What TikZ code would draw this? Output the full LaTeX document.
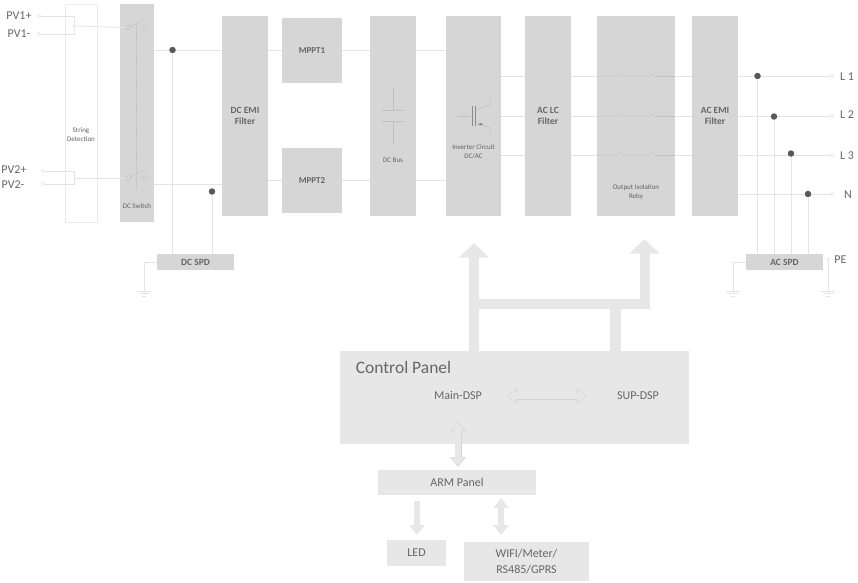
\documentclass[tikz,border=0pt]{standalone}
\usepackage{fontspec}
\setmainfont{Carlito}
\usepackage{tikz}
\usetikzlibrary{arrows.meta}
\definecolor{blockgray}{HTML}{D6D6D6}
\definecolor{panelgray}{HTML}{E6E7E6}
\definecolor{wiregray}{HTML}{E4E4E4}
\definecolor{textgray}{HTML}{666666}

\begin{document}
\begin{tikzpicture}[x=1pt, y=-1pt,
    block/.style = {fill=blockgray, text=textgray, inner sep=0pt, align=center, font=\fontsize{9.5}{11.5}\selectfont\bfseries},
    panel/.style = {fill=panelgray, text=textgray, inner sep=0pt, align=center},
    tiny/.style = {text=black!62, inner sep=0pt, align=center, font=\fontsize{7}{9}\selectfont},
    label/.style = {text=textgray, inner sep=0pt, font=\fontsize{12}{14}\selectfont},
    wire/.style = {draw=wiregray, line width=0.8pt},
    thin wire/.style = {draw=blockgray!90!black, line width=0.5pt},
    term/.style = {draw=wiregray, fill=white, circle, inner sep=0pt, minimum size=3.5pt, line width=0.6pt},
    joint/.style = {fill=black!65, circle, inner sep=0pt, minimum size=6.5pt},
    fat/.style = {draw=panelgray, line width=10pt, -{Triangle[width=29pt, length=14.5pt]}},
    link/.style = {draw=panelgray, line width=6pt},
    link edge/.style = {draw=black!17, line width=7pt, {Triangle[width=15pt, length=10pt]}-{Triangle[width=15pt, length=10pt]}},
    link fill/.style = {draw=panelgray, line width=5.6pt, shorten >=1pt, shorten <=1pt, {Triangle[width=12.6pt, length=8.4pt]}-{Triangle[width=12.6pt, length=8.4pt]}}]
    \useasboundingbox (0,0) rectangle (858,582);

    \node[draw=black!8, fill=white, minimum width=32pt, minimum height=218pt, inner sep=0pt, line width=0.6pt] (detect) at (81,113) {};
    \node[tiny] (detecttxt) at (81,135) {String\\Detection};
    \node[block, minimum width=34pt, minimum height=218pt] (switch) at (137,113) {};
    \node[tiny] (switchtxt) at (137,206) {DC Switch};
    \node[block, minimum width=46pt, minimum height=200pt] (dcemi) at (245,116) {DC EMI\\Filter};
    \node[block, minimum width=60pt, minimum height=65pt, font=\fontsize{9}{11}\selectfont\bfseries] (mppt1) at (312,50.5) {MPPT1};
    \node[block, minimum width=60pt, minimum height=65pt, font=\fontsize{9}{11}\selectfont\bfseries] (mppt2) at (312,180.5) {MPPT2};
    \node[block, minimum width=46pt, minimum height=200pt] (bus) at (393,116) {};
    \node[tiny] (bustxt) at (393,160) {DC Bus};
    \node[block, minimum width=55pt, minimum height=200pt] (inv) at (473.5,116) {};
    \node[tiny] (invtxt) at (473.5,152) {Inverter Circuit\\DC/AC};
    \node[block, minimum width=46pt, minimum height=200pt] (aclc) at (548,116) {AC LC\\Filter};
    \node[block, minimum width=78pt, minimum height=200pt] (relay) at (636,116) {};
    \node[tiny] (relaytxt) at (636,192) {Output Isolation\\Reby};
    \node[block, minimum width=46pt, minimum height=200pt] (acemi) at (715,116) {AC EMI\\Filter};
    \node[block, minimum width=77pt, minimum height=16pt] (dcspd) at (195.5,262) {DC SPD};
    \node[block, minimum width=77pt, minimum height=16pt] (acspd) at (784.5,262) {AC SPD};

    \node[panel, minimum width=349pt, minimum height=93pt] (control) at (514.5,397.5) {};
    \node[text=textgray, inner sep=0pt, font=\fontsize{17.5}{20}\selectfont] (controltxt) at (403.5,367.5) {Control Panel};
    \node[label] (maindsp) at (458,395.5) {Main-DSP};
    \node[label] (supdsp) at (638,395.5) {SUP-DSP};
    \node[panel, minimum width=158pt, minimum height=25pt, font=\fontsize{12}{14}\selectfont] (arm) at (457,482.5) {ARM Panel};
    \node[panel, minimum width=59pt, minimum height=26pt, font=\fontsize{12}{14}\selectfont] (led) at (416.5,553) {LED};
    \node[panel, minimum width=125pt, minimum height=39pt, font=\fontsize{12}{15.5}\selectfont] (wifi) at (526.5,561.5) {WIFI/Meter/\\RS485/GPRS};

    \node[label] (pv1p) at (19,16) {PV1+};
    \node[label] (pv1n) at (19,34) {PV1-};
    \node[label] (pv2p) at (14,170) {PV2+};
    \node[label] (pv2n) at (13,185) {PV2-};
    \node[term] (t1) at (39,16) {};
    \node[term] (t2) at (39,34) {};
    \node[term] (t3) at (43,171) {};
    \node[term] (t4) at (43,184) {};
    \draw[wire] (t1) -- (74,16) -- (74,34) -- (t2);
    \draw[wire] (t3) -- (74,171) -- (74,184) -- (t4);

    \node[term, draw=black!22, fill=blockgray, minimum size=5pt] (s1a) at (128.5,27.5) {};
    \node[term, draw=black!22, fill=blockgray, minimum size=5pt] (s1b) at (145,27.5) {};
    \node[term, draw=black!22, fill=blockgray, minimum size=5pt] (s2a) at (128.5,178) {};
    \node[term, draw=black!22, fill=blockgray, minimum size=5pt] (s2b) at (145,178) {};
    \node[term, minimum size=3pt] (j1) at (74,26) {};
    \coordinate (j2) at (74,178);
    \draw[wire] (j1) -- (s1a);
    \draw[wire] (j2) -- (s2a);
    \draw[thin wire] (s1a) -- (142,21);
    \draw[thin wire] (s2a) -- (142,171);
    \draw[thin wire, densely dotted] (136,24) -- (136,188);

    \coordinate (up) at (0,50);
    \coordinate (lo) at (0,180);
    \coordinate (lsw) at (0,184);
    \draw[wire] (switch.east |- up) -- (dcemi.west |- up);
    \draw[wire] (switch.east |- lsw) -- (dcemi.west |- lsw);
    \draw[wire] (dcemi.east |- up) -- (mppt1.west |- up);
    \draw[wire] (dcemi.east |- lo) -- (mppt2.west |- lo);
    \draw[wire] (mppt1.east |- up) -- (bus.west |- up);
    \draw[wire] (mppt2.east |- lo) -- (bus.west |- lo);
    \draw[wire] (bus.east |- up) -- (inv.west |- up);
    \draw[wire] (bus.east |- lo) -- (inv.west |- lo);

    \node[joint] (dc1) at (172.5,50) {};
    \node[joint] (dc2) at (212,191.5) {};
    \draw[wire] (dc1) -- (dc1 |- dcspd.north);
    \draw[wire] (dc2) -- (dc2 |- dcspd.north);

    \coordinate (g1) at (144,291);
    \coordinate (g2) at (733,291);
    \coordinate (g3) at (828,291);
    \draw[wire] (dcspd.west) -| (g1);
    \draw[wire] (acspd.west) -| (g2);
    \node[term] (pe) at (828,259) {};
    \draw[wire] (pe) -- (g3);
    \foreach \g in {g1, g2, g3} {
        \draw[wire] ([xshift=-7pt]\g) -- ([xshift=7pt]\g);
        \draw[wire] ([xshift=-4.5pt, yshift=-2.5pt]\g) -- ([xshift=4.5pt, yshift=-2.5pt]\g);
        \draw[wire] ([xshift=-2pt, yshift=-5pt]\g) -- ([xshift=2pt, yshift=-5pt]\g);
    }

    \coordinate (l1) at (0,76);
    \coordinate (l2) at (0,116);
    \coordinate (l3) at (0,155);
    \coordinate (l4) at (0,194);
    \foreach \l in {l1, l2, l3} {
        \draw[wire] (inv.east |- \l) -- (aclc.west |- \l);
        \draw[wire] (aclc.east |- \l) -- (relay.west |- \l);
        \draw[wire] (relay.east |- \l) -- (acemi.west |- \l);
        \draw[thin wire] (relay.west |- \l) -- ++(20,0) -- ++(5,-3);
        \draw[thin wire] ([xshift=25pt]relay.west |- \l) -- ++(28,0) -- ++(5,-3);
        \draw[thin wire] ([xshift=58pt]relay.west |- \l) -- (relay.east |- \l);
    }

    \node[label] (L1) at (847,76.5) {L 1};
    \node[label] (L2) at (847,115) {L 2};
    \node[label] (L3) at (847,156) {L 3};
    \node[label] (N) at (848,195) {N};
    \node[label] (PE) at (840.5,260) {PE};
    \node[term] (o1) at (832,76) {};
    \node[term] (o2) at (832,116) {};
    \node[term] (o3) at (832,155) {};
    \node[term] (o4) at (832,194) {};
    \draw[wire] (acemi.east |- o1) -- (o1);
    \draw[wire] (acemi.east |- o2) -- (o2);
    \draw[wire] (acemi.east |- o3) -- (o3);
    \draw[wire] (acemi.east |- o4) -- (o4);
    \node[joint] (ac1) at (757.5,76) {};
    \node[joint] (ac2) at (774,116.5) {};
    \node[joint] (ac3) at (791,153.5) {};
    \node[joint] (ac4) at (808,194) {};
    \draw[wire] (ac1) -- (ac1 |- acspd.north);
    \draw[wire] (ac2) -- (ac2 |- acspd.north);
    \draw[wire] (ac3) -- (ac3 |- acspd.north);
    \draw[wire] (ac4) -- (ac4 |- acspd.north);

    \coordinate (capa) at (393,88);
    \coordinate (capb) at (393,144);
    \draw[thin wire] (capa) -- ++(0,22.5) ++(-11,0) -- ++(22,0);
    \draw[thin wire] (capb) -- ++(0,-22.5) ++(-11,0) -- ++(22,0);

    \coordinate (gate) at (457,116);
    \draw[thin wire] (gate) -- ++(14,0);
    \draw[thin wire, draw=black!45, line width=0.9pt] (472,106) -- (472,126);
    \draw[thin wire, draw=black!45, line width=0.9pt] (475,106) -- (475,126);
    \draw[thin wire] (476,110) -- (490,105) -- (490,99);
    \draw[thin wire] (476,122) -- (490,128) -- (490,133);
    \fill[black!50] (478,124.5) -- (482,123) -- (482,125.5) -- cycle;

    \coordinate (a1) at (474,351);
    \coordinate (a2) at (474,243);
    \coordinate (b1) at (474,304);
    \coordinate (b2) at (644.5,304);
    \coordinate (b3) at (644.5,239);
    \coordinate (c1) at (615.5,351);
    \coordinate (c2) at (615.5,304);
    \draw[fat] (a1) -- (a2);
    \draw[fat] (b1) -- (b2) -- (b3);
    \draw[panelgray, line width=11pt] (c1) -- (c2);

    \coordinate (d1) at (507,396);
    \coordinate (d2) at (587,396);
    \coordinate (e1) at (458,421);
    \coordinate (e2) at (458,467);
    \coordinate (f1) at (501,498);
    \coordinate (f2) at (501,535);
    \coordinate (h1) at (417,501);
    \coordinate (h2) at (417,535);
    \draw[link edge] (d1) -- (d2);
    \draw[link fill] (d1) -- (d2);
    \draw[link edge] (e1) -- (e2);
    \draw[link fill] (e1) -- (e2);
    \draw[link, {Triangle[width=15pt, length=10pt]}-{Triangle[width=15pt, length=10pt]}] (f1) -- (f2);
    \draw[link, -{Triangle[width=15pt, length=10pt]}] (h1) -- (h2);
\end{tikzpicture}
\end{document}
